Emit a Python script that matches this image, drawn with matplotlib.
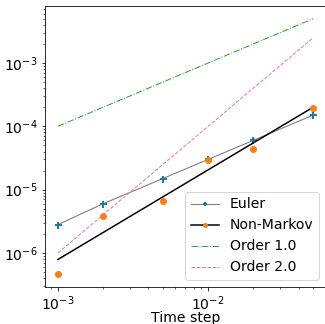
import numpy as np
import matplotlib.pyplot as plt
from matplotlib.lines import Line2D

dt = [0.001, 0.002, 0.005, 0.01, 0.02, 0.05]
euler_err = [2.8e-6, 6.0e-6, 1.5e-5, 3.0e-5, 6.0e-5, 1.5e-4]
nonmarkov_err = [4.7e-7, 3.8e-6, 6.7e-6, 2.9e-5, 4.4e-5, 1.95e-4]

fit_x = [0.001, 0.05]
fit_y = [7.9e-7, 2.0e-4]

order1 = [1.0e-4, 5.0e-3]
order2 = [1.0e-6, 2.5e-3]

plt.rcParams['font.size'] = 14

fig = plt.figure(figsize=(325 / 72, 324 / 72), dpi=72)
ax = fig.add_axes([45 / 325, 37 / 324, 281 / 325, 281 / 324])

ax.plot(dt, euler_err, color='gray', lw=1.1, marker='+', ms=7, mew=2,
        mec='C0', mfc='C0')
ax.plot(fit_x, fit_y, color='k')
ax.plot(dt, nonmarkov_err, 'o', color='C1', lw=0)
ax.plot(fit_x, order1, color='C2', ls='-.', lw=1)
ax.plot(fit_x, order2, color='C6', ls='--', lw=1)

ax.set_xscale('log')
ax.set_yscale('log')
ax.set_xlim(10**-3.086, 10**-1.215)
ax.set_ylim(10**-6.537, 10**-2.1)

ax.set_xlabel('Time step', labelpad=-2)

# legend handles: line style of the curve with the data marker on top
handles = [
    Line2D([], [], color='gray', lw=1.1, marker='+', ms=7, mew=2, mec='C0'),
    Line2D([], [], color='k', marker='o', mfc='C1', mec='C1'),
    Line2D([], [], color='C2', ls='-.', lw=1),
    Line2D([], [], color='C6', ls='--', lw=1),
]
ax.legend(handles, ['Euler', 'Non-Markov', 'Order 1.0', 'Order 2.0'],
          loc='lower right', markerscale=0.65)

fig.savefig('out.png', dpi=72)
